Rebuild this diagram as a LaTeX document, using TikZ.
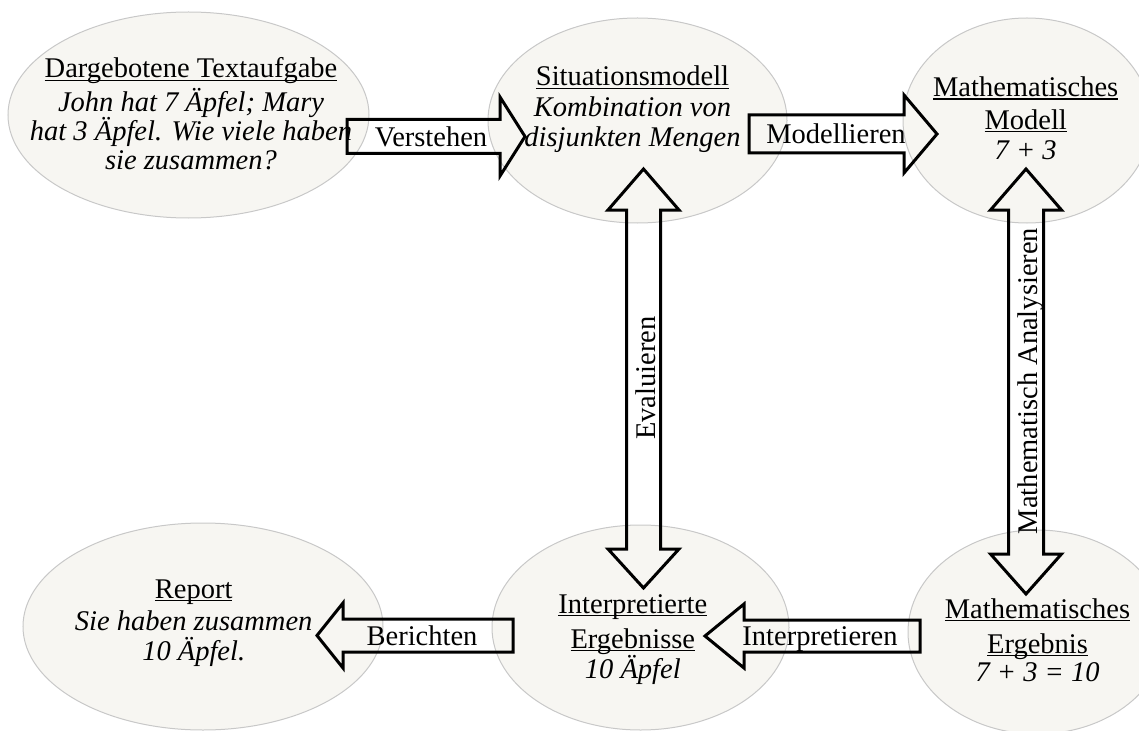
\documentclass[tikz,border=0pt]{standalone}
\usepackage{fontspec}
\setmainfont{Liberation Serif}
\usetikzlibrary{calc,shapes.geometric}
\definecolor{ellfill}{HTML}{F7F6F2}
\definecolor{elldraw}{HTML}{C8C8C8}
% underlined heading with the rule crossing the descenders
\newcommand\titleline[1]{\setbox0\hbox{#1}\rlap{\rule[-3bp]{\wd0}{1.3bp}}\box0}
% horizontal block arrow: tail, tip, half body width, half head width, head length (negative = pointing left)
\newcommand\hblock[5]{%
  \draw[blockarrow] ($(#1)+(0,-#3)$) -- ($(#2)+({-(#5)},-#3)$) -- ($(#2)+({-(#5)},-#4)$) -- (#2)
    -- ($(#2)+({-(#5)},#4)$) -- ($(#2)+({-(#5)},#3)$) -- ($(#1)+(0,#3)$) -- cycle;}
% vertical double block arrow: top tip, bottom tip, half body, half head, top head length, bottom head length
\newcommand\vdblock[6]{%
  \draw[blockarrow] (#1) -- ($(#1)+(#4,#5)$) -- ($(#1)+(#3,#5)$) -- ($(#2)+(#3,-#6)$) -- ($(#2)+(#4,-#6)$)
    -- (#2) -- ($(#2)+(-#4,-#6)$) -- ($(#2)+(-#3,-#6)$) -- ($(#1)+(-#3,#5)$) -- ($(#1)+(-#4,#5)$) -- cycle;}
\begin{document}
\begin{tikzpicture}[x=1bp,y=-1bp,
  stage/.style={ellipse, fill=ellfill, draw=elldraw, line width=1bp, inner sep=0},
  txt/.style={inner sep=0, anchor=base, font=\fontsize{28.5bp}{31bp}\selectfont},
  blockarrow/.style={draw=black, line width=3bp, line join=miter}]
\useasboundingbox (0,0) rectangle (1139,731);
\clip (0,0) rectangle (1139,731);

% stages
\node[stage, minimum width=361bp, minimum height=206bp] (task) at (188.5,115) {};
\node[stage, minimum width=299bp, minimum height=205bp] (situation) at (637.5,120.5) {};
\node[stage, minimum width=248bp, minimum height=205bp] (mathmodel) at (1027,120.5) {};
\node[stage, minimum width=360bp, minimum height=207bp] (report) at (203,626.5) {};
\node[stage, minimum width=297bp, minimum height=205bp] (interp) at (640.5,627.5) {};
\node[stage, minimum width=258bp, minimum height=204bp] (mathresult) at (1037,632) {};

% block arrows
\coordinate (verst-tail) at (347,136.5);  \coordinate (verst-tip) at (525,136.5);
\coordinate (model-tail) at (749,134);    \coordinate (model-tip) at (937,134);
\coordinate (ber-tail) at (513,635.5);    \coordinate (ber-tip) at (317,635.5);
\coordinate (int-tail) at (920,636);      \coordinate (int-tip) at (705,636);
\coordinate (eval-top) at (643.5,169);    \coordinate (eval-bot) at (643.5,588);
\coordinate (ana-top) at (1026,169);      \coordinate (ana-bot) at (1026,594);
\hblock{verst-tail}{verst-tip}{17}{39.5}{25}
\hblock{model-tail}{model-tip}{19}{39}{33}
\hblock{ber-tail}{ber-tip}{16.5}{32.5}{-26}
\hblock{int-tail}{int-tip}{16}{32}{-39}
\vdblock{eval-top}{eval-bot}{17}{35.5}{41}{39}
\vdblock{ana-top}{ana-bot}{17.5}{35.5}{41}{40}

% arrow labels
\node[txt] (verst-lbl) at (431,147) {Verstehen};
\node[txt] (model-lbl) at (836,143.3) {Modellieren};
\node[txt] (ber-lbl) at (422,645) {Berichten};
\node[txt] (int-lbl) at (820,645) {Interpretieren};
\node[txt, rotate=90] (eval-lbl) at (655,378) {Evaluieren};
\node[txt, rotate=90] (ana-lbl) at (1037,381) {Mathematisch Analysieren};

% stage texts
\node[txt] (task-t) at (191,78) {\titleline{Dargebotene Textaufgabe}};
\node[txt] (task-a) at (191,112) {\itshape John hat 7 Äpfel; Mary};
\node[txt] (task-b) at (191,141) {\itshape hat 3 Äpfel. Wie viele haben};
\node[txt] (task-c) at (191,169.5) {\itshape sie zusammen?};

\node[txt] (sit-t) at (632.5,86) {\titleline{Situationsmodell}};
\node[txt] (sit-a) at (632.5,116.7) {\itshape Kombination von};
\node[txt] (sit-b) at (632.5,146.7) {\itshape disjunkten Mengen};

\node[txt] (mm-t) at (1025.7,96.7) {\titleline{Mathematisches}};
\node[txt] (mm-u) at (1025.7,129.3) {\titleline{Modell}};
\node[txt] (mm-a) at (1025.7,160) {\itshape 7 + 3};

\node[txt] (rep-t) at (193.7,598.3) {\titleline{Report}};
\node[txt] (rep-a) at (193.7,630) {\itshape Sie haben zusammen};
\node[txt] (rep-b) at (193.7,660) {\itshape 10 Äpfel.};

\node[txt] (int-t) at (632.8,613.3) {\titleline{Interpretierte}};
\node[txt] (int-u) at (632.8,648.3) {\titleline{Ergebnisse}};
\node[txt] (int-a) at (632.8,678.3) {\itshape 10 Äpfel};

\node[txt] (mr-t) at (1037.5,618.3) {\titleline{Mathematisches}};
\node[txt] (mr-u) at (1037.5,653.3) {\titleline{Ergebnis}};
\node[txt] (mr-a) at (1037.5,681.7) {\itshape 7 + 3 = 10};
\end{tikzpicture}
\end{document}
